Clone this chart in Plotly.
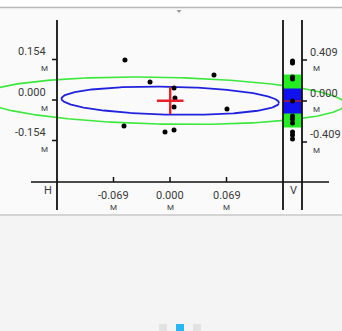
import numpy as np
import plotly.graph_objects as go

# ---- data (metres) ----------------------------------------------------------
east = [-0.0550, -0.0244, 0.0537, 0.0049, 0.0061, 0.0049, 0.0696, -0.0562, -0.0061, 0.0049]
north = [0.152, 0.0684, 0.0951, 0.0456, 0.0076, -0.0266, -0.0342, -0.0989, -0.1217, -0.114]
up = [0.399, 0.379, 0.239, 0.219, 0.0, -0.150, -0.180, -0.219, -0.309, -0.339, -0.379]

h_ticks = [-0.069, 0.0, 0.069]
h_tick_text = ["-0.069", "0.000", "0.069"]
n_ticks = [0.154, 0.0, -0.154]
n_tick_text = ["0.154", "0.000", "-0.154"]
v_ticks = [0.409, 0.0, -0.409]
v_tick_text = ["0.409", "0.000", "-0.409"]
unit = "M"
h_label = "H"
v_label = "V"

# horizontal error ellipses: inner semi-axes, rotation (deg), outer scale and offset
ell_a = 0.1331
ell_b = 0.0532
ell_rot = -4.1
ell_outer = 1.67
ell_outer_dx = -0.0086
# vertical bands (inner / outer half heights)
v_band_inner = 0.125
v_band_outer = 0.264
v_center = 0.0

# ---- page geometry (pixels) -------------------------------------------------
W, H = 342, 331
X0, Y0 = 170.0, 100.0            # pixel position of the horizontal origin
SX = 56.5 / 0.069                # px per metre, east
SY = 40.5 / 0.154                # px per metre, north
V0 = 101.0                       # pixel row of the vertical origin
SV = 41.0 / 0.409                # px per metre, up
AX_X = 57                        # left axis line
AX_Y = 182                       # bottom axis line
AX_TOP, AX_BOT = 20, 210
STRIP_L, STRIP_R = 283, 302


def px(x):
    return x / W


def py(y):
    return 1 - y / H


x_range = [(0 - X0) / SX, (W - X0) / SX]
y_range = [(Y0 - H) / SY, (Y0 - 0) / SY]
y2_range = [(V0 - H) / SV, (V0 - 0) / SV]

cx = float(np.mean(east))
cy = float(np.mean(north))

t = np.linspace(0, 2 * np.pi, 361)
th = np.radians(ell_rot)


def ellipse(scale, dx=0.0):
    a, b = ell_a * scale, ell_b * scale
    ex = cx + dx + a * np.cos(th) * np.cos(t) - b * np.sin(th) * np.sin(t)
    ey = cy + a * np.sin(th) * np.cos(t) + b * np.cos(th) * np.sin(t)
    return ex, ey


fig = go.Figure()

gx, gy = ellipse(ell_outer, ell_outer_dx)
fig.add_trace(go.Scatter(x=gx, y=gy, mode="lines", line=dict(color="#3be83b", width=1.6),
                         hoverinfo="skip", xaxis="x", yaxis="y"))
bx, by = ellipse(1.0)
fig.add_trace(go.Scatter(x=bx, y=by, mode="lines", line=dict(color="#2222dd", width=1.8),
                         hoverinfo="skip", xaxis="x", yaxis="y"))
fig.add_trace(go.Scatter(x=east, y=north, mode="markers",
                         marker=dict(color="black", size=5), hoverinfo="skip",
                         xaxis="x", yaxis="y"))
fig.add_trace(go.Scatter(x=[cx], y=[cy], mode="markers",
                         marker=dict(symbol="cross-thin", size=19,
                                     line=dict(color="#e8202a", width=2.4)),
                         hoverinfo="skip", xaxis="x", yaxis="y"))

# vertical strip: bands, mean line and points
for half, col in [(v_band_outer, "#22ee22"), (v_band_inner, "#1010f0")]:
    fig.add_trace(go.Scatter(x=[0, 1, 1, 0, 0],
                             y=[v_center - half, v_center - half, v_center + half,
                                v_center + half, v_center - half],
                             mode="lines", fill="toself", fillcolor=col,
                             line=dict(width=0, color=col), hoverinfo="skip",
                             xaxis="x2", yaxis="y2"))
fig.add_trace(go.Scatter(x=[0, 1], y=[v_center, v_center], mode="lines",
                         line=dict(color="#8a1c5a", width=2), hoverinfo="skip",
                         xaxis="x2", yaxis="y2"))
fig.add_trace(go.Scatter(x=[0.5] * len(up), y=up, mode="markers",
                         marker=dict(color="black", size=5), hoverinfo="skip",
                         xaxis="x2", yaxis="y2"))

shapes = []
# top bar and separators
shapes.append(dict(type="rect", xref="paper", yref="paper", x0=0, x1=1, y0=py(0), y1=py(7),
                   fillcolor="#ffffff", line=dict(width=0), layer="below"))
shapes.append(dict(type="line", xref="paper", yref="paper", x0=0, x1=1, y0=py(7.5), y1=py(7.5),
                   line=dict(color="#b8b8b8", width=1.5)))
shapes.append(dict(type="path", xref="paper", yref="paper",
                   path=f"M {px(176.5)} {py(10)} L {px(181.5)} {py(10)} L {px(179)} {py(13)} Z",
                   fillcolor="#9a9a9a", line=dict(width=0)))
shapes.append(dict(type="rect", xref="paper", yref="paper", x0=0, x1=1, y0=0, y1=py(215),
                   fillcolor="#f4f4f4", line=dict(width=0)))
shapes.append(dict(type="line", xref="paper", yref="paper", x0=0, x1=1, y0=py(215), y1=py(215),
                   line=dict(color="#d4d4d4", width=2)))

# axis lines
axis_line = dict(color="#111111", width=1.8)
for xl in (AX_X, STRIP_L, STRIP_R):
    shapes.append(dict(type="line", xref="paper", yref="paper", x0=px(xl), x1=px(xl),
                       y0=py(AX_TOP), y1=py(AX_BOT), line=axis_line))
shapes.append(dict(type="line", xref="paper", yref="paper", x0=px(31), x1=px(329),
                   y0=py(AX_Y), y1=py(AX_Y), line=dict(color="#111111", width=1.5)))

# ticks
for v in h_ticks:
    shapes.append(dict(type="line", xref="x", yref="paper", x0=v, x1=v,
                       y0=py(AX_Y - 5), y1=py(AX_Y), line=dict(color="#111111", width=1.5)))
for v in n_ticks:
    shapes.append(dict(type="line", xref="paper", yref="y", x0=px(AX_X - 5), x1=px(AX_X),
                       y0=v, y1=v, line=dict(color="#111111", width=1.5)))
for v in v_ticks:
    shapes.append(dict(type="line", xref="paper", yref="y2", x0=px(STRIP_R), x1=px(STRIP_R + 5),
                       y0=v, y1=v, line=dict(color="#111111", width=1.5)))

# page indicator
for x0, col in [(159, "#e2e2e2"), (176, "#29b6f6"), (193, "#e2e2e2")]:
    shapes.append(dict(type="rect", xref="paper", yref="paper", x0=px(x0), x1=px(x0 + 8),
                       y0=py(331), y1=py(324), fillcolor=col, line=dict(width=0)))

num_font = dict(family="Roboto", size=11, color="#3a3a3a")
unit_font = dict(family="Roboto", size=8, color="#3a3a3a")
ann = []
for v, s in zip(n_ticks, n_tick_text):
    ann.append(dict(xref="paper", yref="y", x=px(48), y=v, yshift=8, text=s,
                    xanchor="right", yanchor="middle", showarrow=False, font=num_font))
    ann.append(dict(xref="paper", yref="y", x=px(50), y=v, yshift=-8.5, text=unit,
                    xanchor="right", yanchor="middle", showarrow=False, font=unit_font))
for v, s in zip(v_ticks, v_tick_text):
    ann.append(dict(xref="paper", yref="y2", x=px(308), y=v, yshift=8, text=s,
                    xanchor="left", yanchor="middle", showarrow=False, font=num_font))
    ann.append(dict(xref="paper", yref="y2", x=px(311), y=v, yshift=-8.5, text=unit,
                    xanchor="left", yanchor="middle", showarrow=False, font=unit_font))
for v, s in zip(h_ticks, h_tick_text):
    ann.append(dict(xref="x", yref="paper", x=v, y=py(195), text=s,
                    xanchor="center", yanchor="middle", showarrow=False, font=num_font))
    ann.append(dict(xref="x", yref="paper", x=v, y=py(207), text=unit,
                    xanchor="center", yanchor="middle", showarrow=False, font=unit_font))
ann.append(dict(xref="paper", yref="paper", x=px(48), y=py(190), text=h_label,
                xanchor="center", yanchor="middle", showarrow=False, font=num_font))
ann.append(dict(xref="paper", yref="paper", x=px(293), y=py(190), text=v_label,
                xanchor="center", yanchor="middle", showarrow=False, font=num_font))

hidden = dict(visible=False, showgrid=False, zeroline=False, fixedrange=True)
fig.update_layout(
    width=W, height=H, margin=dict(l=0, r=0, t=0, b=0),
    paper_bgcolor="#fafafa", plot_bgcolor="rgba(0,0,0,0)",
    showlegend=False,
    xaxis=dict(domain=[0, 1], range=x_range, **hidden),
    yaxis=dict(domain=[0, 1], range=y_range, **hidden),
    xaxis2=dict(domain=[px(STRIP_L), px(STRIP_R)], range=[0, 1], anchor="y2", **hidden),
    yaxis2=dict(domain=[0, 1], range=y2_range, anchor="x2", **hidden),
    shapes=shapes, annotations=ann,
)

fig.write_html("out.html", config={"displayModeBar": False})
